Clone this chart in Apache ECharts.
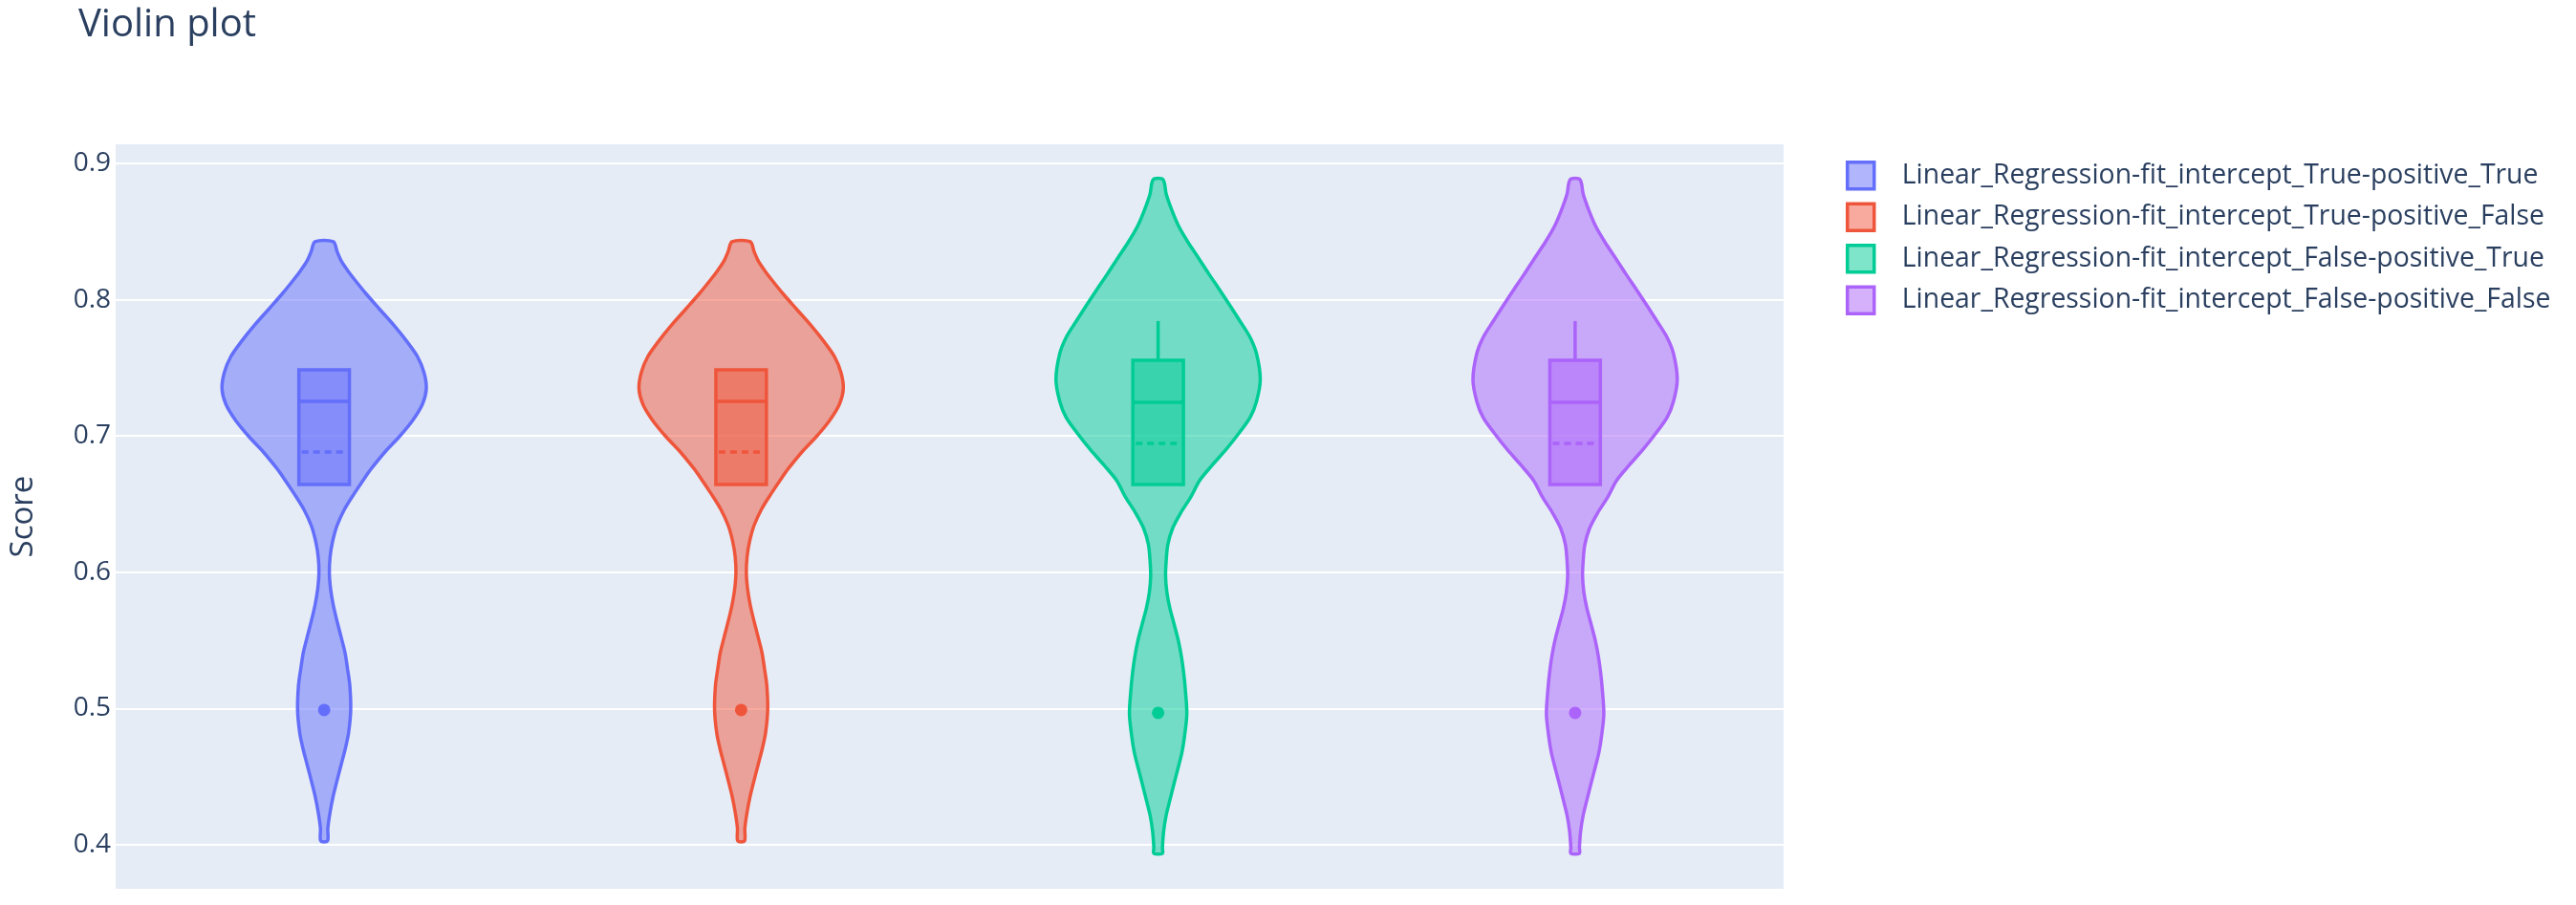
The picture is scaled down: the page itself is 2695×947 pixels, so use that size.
<!DOCTYPE html>
<html>
<head>
<meta charset="utf-8">
<title>Violin plot</title>
<script src="https://cdn.jsdelivr.net/npm/echarts@6/dist/echarts.min.js"></script>
<style>
  html, body { margin: 0; padding: 0; background: #fff; }
  #chart { width: 2695px; height: 947px; }
</style>
</head>
<body>
<div id="chart"></div>
<script type="text/javascript">
var names = [
  'Linear_Regression-fit_intercept_True-positive_True',
  'Linear_Regression-fit_intercept_True-positive_False',
  'Linear_Regression-fit_intercept_False-positive_True',
  'Linear_Regression-fit_intercept_False-positive_False'
];
var colors = ['#636efa', '#EF553B', '#00cc96', '#ab63fa'];
var tickVals = [0.4, 0.5, 0.6, 0.7, 0.8, 0.9];

// density outline: score, relative half width (max = 1)
var scoresTrue = [0.4028, 0.4119, 0.4238, 0.4358, 0.4470, 0.4589, 0.4708, 0.4820, 0.4989, 0.5171,
  0.5290, 0.5410, 0.5522, 0.5641, 0.5760, 0.5872, 0.5992, 0.6111, 0.6223, 0.6342,
  0.6461, 0.6574, 0.6693, 0.6763, 0.6882, 0.6994, 0.7114, 0.7233, 0.7345, 0.7464,
  0.7583, 0.7696, 0.7815, 0.7934, 0.8046, 0.8144, 0.8215, 0.8285, 0.8355, 0.8425];
var widthTrue = [0.033, 0.036, 0.058, 0.089, 0.126, 0.167, 0.208, 0.239, 0.260, 0.251,
  0.229, 0.204, 0.167, 0.126, 0.089, 0.064, 0.051, 0.058, 0.082, 0.126,
  0.199, 0.292, 0.398, 0.465, 0.595, 0.735, 0.866, 0.962, 1.000, 0.978,
  0.913, 0.807, 0.679, 0.538, 0.407, 0.301, 0.229, 0.167, 0.126, 0.089];

var scoresFalse = [0.3937, 0.3979, 0.4098, 0.4217, 0.4330, 0.4449, 0.4568, 0.4680, 0.4799, 0.4961,
  0.5150, 0.5269, 0.5381, 0.5501, 0.5620, 0.5732, 0.5851, 0.5971, 0.6083, 0.6202,
  0.6321, 0.6433, 0.6553, 0.6672, 0.6784, 0.6903, 0.7022, 0.7135, 0.7254, 0.7415,
  0.7604, 0.7724, 0.7836, 0.7955, 0.8074, 0.8187, 0.8306, 0.8425, 0.8537, 0.8656,
  0.8776, 0.8881];
var widthFalse = [0.042, 0.042, 0.054, 0.079, 0.116, 0.156, 0.197, 0.234, 0.259, 0.281,
  0.265, 0.249, 0.228, 0.197, 0.156, 0.116, 0.086, 0.073, 0.079, 0.095,
  0.141, 0.219, 0.321, 0.405, 0.528, 0.668, 0.793, 0.900, 0.963, 1.000,
  0.963, 0.900, 0.807, 0.705, 0.600, 0.498, 0.395, 0.290, 0.203, 0.135,
  0.079, 0.048];

// box statistics per violin
var q1 = [0.6644, 0.6644, 0.6644, 0.6644];
var median = [0.7254, 0.7254, 0.7247, 0.7247];
var q3 = [0.7485, 0.7485, 0.7555, 0.7555];
var mean = [0.6882, 0.6882, 0.6945, 0.6945];
var upperFence = [0.7485, 0.7485, 0.7843, 0.7843];
var lowerFence = [0.6644, 0.6644, 0.6644, 0.6644];
var outliers = [0.4989, 0.4989, 0.4968, 0.4968];

var profiles = [
  { s: scoresTrue, w: widthTrue },
  { s: scoresTrue, w: widthTrue },
  { s: scoresFalse, w: widthFalse },
  { s: scoresFalse, w: widthFalse }
];

var violinHalf = 0.245;  // of category band
var boxHalf = 0.0606;
var lw = 3.5;
var font = '"Open Sans", Lato, sans-serif';
var textColor = '#2a3f5f';

function fade(hex, a) {
  var n = parseInt(hex.slice(1), 16);
  return 'rgba(' + (n >> 16 & 255) + ',' + (n >> 8 & 255) + ',' + (n & 255) + ',' + a + ')';
}

function renderViolin(params, api) {
  var k = api.value(0);
  var prof = profiles[k];
  var band = api.size([1, 0])[0];
  var hw = violinHalf * band, bw = boxHalf * band;
  var right = [], left = [];
  for (var j = 0; j < prof.s.length; j++) {
    var p = api.coord([k, prof.s[j]]);
    right.push([p[0] + prof.w[j] * hw, p[1]]);
    left.unshift([p[0] - prof.w[j] * hw, p[1]]);
  }
  var cx = api.coord([k, median[k]])[0];
  var y = function (v) { return api.coord([k, v])[1]; };
  var col = colors[k];
  var line = { stroke: col, lineWidth: lw };
  return {
    type: 'group',
    children: [
      { type: 'polygon', shape: { points: right.concat(left), smooth: 0.3 },
        style: { fill: fade(col, 0.5), stroke: col, lineWidth: lw, lineJoin: 'round' } },
      { type: 'line', shape: { x1: cx, y1: y(q3[k]), x2: cx, y2: y(upperFence[k]) }, style: line },
      { type: 'line', shape: { x1: cx, y1: y(q1[k]), x2: cx, y2: y(lowerFence[k]) }, style: line },
      { type: 'rect', shape: { x: cx - bw, y: y(q3[k]), width: 2 * bw, height: y(q1[k]) - y(q3[k]) },
        style: { fill: fade(col, 0.5), stroke: col, lineWidth: lw } },
      { type: 'line', shape: { x1: cx - bw, y1: y(median[k]), x2: cx + bw, y2: y(median[k]) }, style: line },
      { type: 'line', shape: { x1: cx - bw + 3, y1: y(mean[k]), x2: cx + bw - 3, y2: y(mean[k]) },
        style: { stroke: col, lineWidth: lw, lineDash: [7, 5] } },
      { type: 'circle', shape: { cx: cx, cy: y(outliers[k]), r: 6.5 }, style: { fill: col } }
    ]
  };
}

var series = names.map(function (n, k) {
  return {
    name: n,
    type: 'custom',
    coordinateSystem: 'cartesian2d',
    renderItem: renderViolin,
    itemStyle: { color: colors[k] },
    encode: { x: 0, y: 1 },
    data: [[k, median[k]]],
    silent: true
  };
});

var options = {
  animation: false,
  backgroundColor: '#fff',
  title: {
    text: 'Violin plot',
    left: 77,
    top: 2,
    textStyle: { fontFamily: font, fontSize: 40, fontWeight: 'normal', color: textColor }
  },
  legend: {
    orient: 'vertical',
    left: 1926,
    top: 163,
    itemWidth: 28,
    itemHeight: 28,
    itemGap: 12,
    selectedMode: false,
    textStyle: { fontFamily: font, fontSize: 28.4, lineHeight: 28, color: textColor, padding: [0, 0, 0, 24] },
    data: names.map(function (n, k) {
      return { name: n, icon: 'rect',
        itemStyle: { color: fade(colors[k], 0.5), borderColor: colors[k], borderWidth: 3.5 } };
    })
  },
  grid: {
    left: 117, right: 829, top: 151, bottom: 17,
    show: true, backgroundColor: '#E5ECF6', borderWidth: 0
  },
  xAxis: {
    type: 'category',
    data: names,
    axisLabel: { show: false },
    axisLine: { show: false },
    axisTick: { show: false },
    splitLine: { show: false }
  },
  yAxis: {
    type: 'value',
    min: 0.3677,
    max: 0.914,
    name: 'Score',
    nameLocation: 'middle',
    nameRotate: 90,
    nameGap: 80,
    nameTextStyle: { fontFamily: font, fontSize: 33, color: textColor },
    axisLine: { show: false },
    axisTick: { show: false, customValues: tickVals },
    axisLabel: {
      customValues: tickVals,
      margin: 5,
      fontFamily: font, fontSize: 28, color: textColor,
      formatter: function (v) { return v.toFixed(1); }
    },
    splitLine: { show: true, lineStyle: { color: '#fff', width: 2 } }
  },
  series: series
};

var myChart = echarts.init(document.getElementById('chart'));
myChart.setOption(options);
</script>
</body>
</html>
